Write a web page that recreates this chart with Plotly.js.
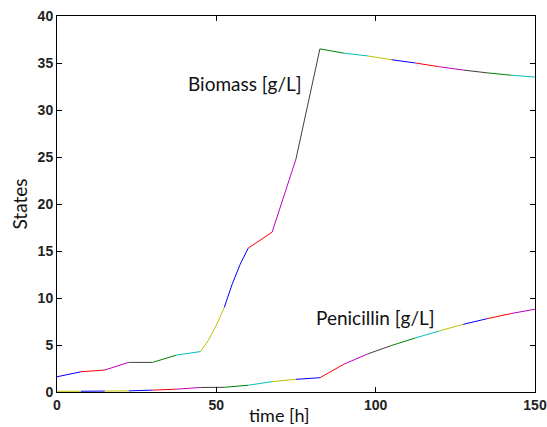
<!DOCTYPE html>
<html>
<head>
<meta charset="utf-8">
<script src="https://cdn.plot.ly/plotly-3.0.1.min.js"></script>
<style>
html,body{margin:0;padding:0;background:#fff;}
#chart{width:547px;height:427px;}
</style>
</head>
<body>
<div id="chart"></div>
<script>
// Segment boundaries (time, h)
const segmentBounds = [0,7.5,15,22.5,30,37.5,45,52.5,60,67.5,75,82.5,90,97.5,105,112.5,120,127.5,135,142.5,150];

// Biomass [g/L]
const biomassTime = [0,7.5,15,22.5,30,37.5,45,47.5,50,52.5,55,57.5,60,67.5,75,82.5,90,97.5,105,112.5,120,127.5,135,142.5,150];
const biomassValues = [1.62,2.15,2.34,3.15,3.15,3.93,4.3,5.5,7.1,9.0,11.5,13.6,15.3,17.0,24.8,36.5,36.05,35.75,35.35,35.0,34.6,34.25,33.95,33.7,33.5];

// Penicillin [g/L]
const penicillinTime = [0,7.5,15,22.5,30,37.5,45,52.5,60,67.5,75,82.5,90,97.5,105,112.5,120,127.5,135,142.5,150];
const penicillinValues = [0.08,0.08,0.1,0.12,0.2,0.3,0.48,0.5,0.72,1.1,1.35,1.52,2.95,4.05,4.95,5.75,6.5,7.2,7.8,8.35,8.8];

// Colours per segment
const B='#0000ff', R='#ff0000', M='#bf00bf', K='#404040', G='#008000', C='#00bfbf', Y='#bfbf00';
const biomassColors = [B,R,M,K,G,C,Y,B,R,M,K,G,C,Y,B,R,M,K,G,C];
const penicillinColors = [Y,B,Y,B,R,M,K,G,C,Y,B,R,M,K,G,C,Y,B,R,M];

// Text labels
const labelTexts = ['Biomass [g/L]','Penicillin [g/L]'];
const labelX = [40.6, 80.8];
const labelY = [32.8, 7.95];
const xTitleText = 'time [h]';
const yTitleText = 'States';

function segments(t, v, colors){
  const out = [];
  for(let k=0;k<segmentBounds.length-1;k++){
    const a=segmentBounds[k], b=segmentBounds[k+1];
    const xs=[], ys=[];
    for(let i=0;i<t.length;i++){
      if(t[i]>=a-1e-9 && t[i]<=b+1e-9){xs.push(t[i]);ys.push(v[i]);}
    }
    out.push({x:xs,y:ys,type:'scatter',mode:'lines',line:{color:colors[k],width:1},hoverinfo:'skip',showlegend:false});
  }
  return out;
}

const traces = segments(biomassTime,biomassValues,biomassColors)
  .concat(segments(penicillinTime,penicillinValues,penicillinColors));

const tickFont = {family:'"Liberation Sans", Arial, sans-serif', size:14, color:'#222', weight:'bold'};
const textFamily = 'Lato, "Open Sans", sans-serif';

const annotations = labelTexts.map((s,i)=>({
  x:labelX[i], y:labelY[i], xref:'x', yref:'y', text:s, showarrow:false,
  xanchor:'left', yanchor:'middle', font:{family:textFamily, size:19, color:'#111'}
}));
annotations.push({
  x:0.465, y:-0.06, xref:'paper', yref:'paper', text:xTitleText, showarrow:false,
  xanchor:'center', yanchor:'middle', font:{family:textFamily, size:18, color:'#111'}
});

const layout = {
  width:547, height:427,
  margin:{l:57,r:12,t:16,b:35},
  paper_bgcolor:'#fff', plot_bgcolor:'#fff',
  showlegend:false,
  xaxis:{
    range:[0,150], tickvals:[0,50,100,150], ticks:'inside', ticklen:5, tickcolor:'#000',
    showline:true, linecolor:'#000', linewidth:1, mirror:'ticks', showgrid:false, zeroline:false,
    tickfont:tickFont, ticklabeloverflow:'allow'
  },
  yaxis:{
    range:[0,40], tickvals:[0,5,10,15,20,25,30,35,40], ticks:'inside', ticklen:5, tickcolor:'#000',
    showline:true, linecolor:'#000', linewidth:1, mirror:'ticks', showgrid:false, zeroline:false,
    tickfont:tickFont, ticklabelstandoff:0,
    title:{text:yTitleText, font:{family:textFamily, size:19, color:'#111'}, standoff:4}
  },
  annotations: annotations
};

Plotly.newPlot('chart', traces, layout, {displayModeBar:false, staticPlot:true});
</script>
</body>
</html>
